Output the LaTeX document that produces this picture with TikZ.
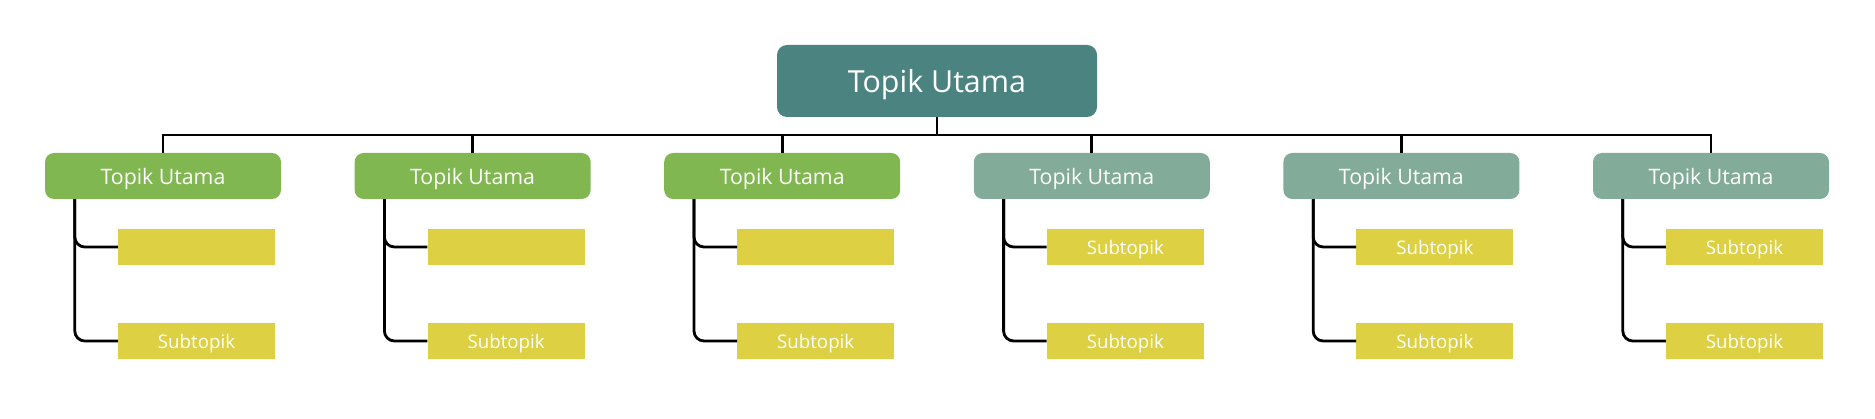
\documentclass[tikz,border=0pt]{standalone}
\usepackage{fontspec}
\setmainfont{Open Sans}
\usetikzlibrary{calc}
\definecolor{rootcol}{HTML}{4B8380}
\definecolor{greencol}{HTML}{81B751}
\definecolor{greycol}{HTML}{83AB9A}
\definecolor{subcol}{HTML}{DDD143}
\tikzset{
  rootbox/.style={fill=rootcol, rounded corners=10pt, minimum width=320pt, minimum height=72pt, inner sep=0pt, text=white, font=\fontsize{30.4}{36}\selectfont, text height=24pt, text depth=0pt},
  childbox/.style={rounded corners=9pt, minimum width=236pt, minimum height=46pt, inner sep=0pt, text=white, font=\fontsize{21.3}{25}\selectfont, text height=17pt, text depth=0pt},
  subbox/.style={fill=subcol, minimum width=157pt, minimum height=36pt, inner sep=0pt, text=white, font=\fontsize{18.7}{22}\selectfont, text height=16pt, text depth=0pt},
  conn/.style={draw=black, line width=2.8pt},
  elbow/.style={conn, rounded corners=10pt}
}
\begin{document}
\begin{tikzpicture}[x=1pt,y=-1pt]
\useasboundingbox (0,0) rectangle (1875,419);
\node[rootbox] (root) at (937,81) {Topik Utama};
\coordinate (bus) at (0,135);
\foreach \i/\cx/\col/\ta in {1/163/greencol/{}, 2/472.6/greencol/{}, 3/782.2/greencol/{}, 4/1091.8/greycol/Subtopik, 5/1401.4/greycol/Subtopik, 6/1711/greycol/Subtopik} {
  \node[childbox, fill=\col] (c\i) at (\cx,176) {Topik Utama};
  \node[subbox] (s\i a) at (\cx+33.5,247) {\ta};
  \node[subbox] (s\i b) at (\cx+33.5,341) {Subtopik};
  \coordinate (l\i) at ($(c\i.south west)+(30,0)$);
  \draw[conn] (root.south) -- (root.south |- bus) -| (c\i.north);
  \draw[elbow] (l\i) |- (s\i a.west);
  \draw[elbow] (l\i) |- (s\i b.west);
}
\end{tikzpicture}
\end{document}
